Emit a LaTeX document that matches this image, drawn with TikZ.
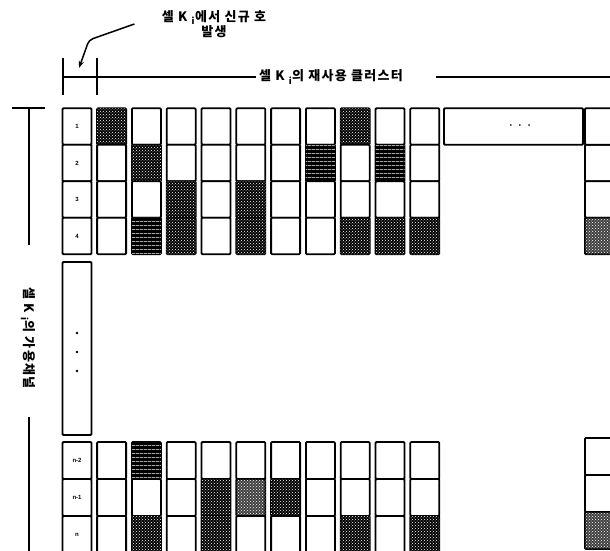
\documentclass[tikz,border=0pt]{standalone}
\usepackage{fontspec}
\setmainfont{Liberation Sans}
\newfontfamily\krfont{Noto Sans CJK KR}[LetterSpace=10]
\usepackage{tikz}
\usetikzlibrary{patterns,patterns.meta,arrows.meta}

\tikzdeclarepattern{
  name=chwaves,
  type=uncolored,
  bounding box={(0pt,0pt) and (4pt,4pt)},
  tile size={(4pt,4pt)},
  code={\draw[line width=0.6pt] (0pt,2pt) .. controls (1pt,3.6pt) and (3pt,0.4pt) .. (4pt,2pt);}
}

\tikzset{
  cell/.style={draw, line width=1.8pt, rounded corners=1pt, fill=white,
    minimum width=29pt, minimum height=36.5pt, inner sep=0pt,
    font=\fontsize{6}{7}\selectfont\bfseries},
  chfree/.style={},
  chused/.style={fill=black, postaction={pattern=crosshatch dots, pattern color=white}},
  chwave/.style={fill=black, postaction={pattern=chwaves, pattern color=white}},
  chlight/.style={fill=black!75, postaction={pattern=crosshatch dots, pattern color=white}},
  krlabel/.style={font=\krfont\bfseries\fontsize{13}{15}\selectfont, align=center},
  bracket/.style={line width=1.5pt},
}

\begin{document}
\begin{tikzpicture}[x=1pt,y=-1pt]
        \useasboundingbox (0,0) rectangle (610,551);
        \clip (0,0) rectangle (610,551);
        % labels
        \node[krlabel] (newcall) at (214,24) {셀 K \textsubscript{i}에서 신규 호\\발생};
        \node[krlabel] (cluster) at (331,77) {셀 K \textsubscript{i}의 재사용 클러스터};
        \node[krlabel, rotate=-90] (chlist) at (28,338) {셀 K \textsubscript{i}의 가용채널};

        \coordinate (arrbend) at (89,40);
        \coordinate (arrtip) at (79,68);
        \draw[bracket, rounded corners=4pt, -{Stealth[length=7pt,width=5pt]}] ([xshift=-24pt]newcall.west) -- (arrbend) -- (arrtip);

        \coordinate (clL) at (63,77);
        \coordinate (clR) at (616,77);
        \draw[bracket] (63,58) -- (63,95);
        \draw[bracket] (97,58) -- (97,95);
        \draw[bracket] (cluster.west) -- (clL);
        \draw[bracket] ([xshift=30pt]cluster.east) -- (clR);

        \coordinate (chtop) at (29,108);
        \coordinate (chA) at (29,245);
        \coordinate (chB) at (29,417);
        \coordinate (chbot) at (29,560);
        \draw[bracket] (12,108) -- (45,108);
        \draw[bracket] (chtop) -- (chA);
        \draw[bracket] (chB) -- (chbot);

        % channel numbers
        \node[cell] (lab1) at (77,126.5) {1};
        \node[cell] (lab2) at (77,163) {2};
        \node[cell] (lab3) at (77,199.5) {3};
        \node[cell] (lab4) at (77,236) {4};
        \node[cell, minimum height=173pt] (labdots) at (77,348.5) {};
        \foreach \y in {333,352,371}
            \fill (77,\y) circle (1.3pt);
        \node[cell, minimum height=37pt] (labn2) at (77,460.5) {n-2};
        \node[cell, minimum height=37pt] (labn1) at (77,497.5) {n-1};
        \node[cell, minimum height=37pt] (labn) at (77,534.5) {n};

        \node[cell, minimum width=139pt] (morecells) at (513.5,126.5)
            {\hspace{13pt}\textbullet\hspace{7pt}\textbullet\hspace{7pt}\textbullet};

        % cells of the cluster
        \foreach \k/\x/\ra/\rb/\rc/\rd/\re/\rf/\rg in {
            1/111.6/chused/chfree/chfree/chfree/chfree/chfree/chfree,
            2/146.4/chfree/chused/chfree/chwave/chwave/chfree/chused,
            3/181.2/chfree/chfree/chused/chused/chfree/chfree/chfree,
            4/216.0/chfree/chfree/chfree/chfree/chfree/chused/chused,
            5/250.8/chfree/chfree/chused/chused/chfree/chlight/chfree,
            6/285.6/chfree/chfree/chfree/chfree/chfree/chused/chfree,
            7/320.4/chfree/chwave/chfree/chfree/chfree/chfree/chfree,
            8/355.2/chused/chfree/chfree/chused/chfree/chfree/chused,
            9/390.0/chfree/chwave/chfree/chused/chfree/chfree/chfree,
            10/424.8/chfree/chfree/chfree/chused/chfree/chfree/chused}{
            \node[cell,\ra] (c\k-1) at (\x,126.5) {};
            \node[cell,\rb] (c\k-2) at (\x,163) {};
            \node[cell,\rc] (c\k-3) at (\x,199.5) {};
            \node[cell,\rd] (c\k-4) at (\x,236) {};
            \node[cell,\re,minimum height=37pt] (c\k-n2) at (\x,460.5) {};
            \node[cell,\rf,minimum height=37pt] (c\k-n1) at (\x,497.5) {};
            \node[cell,\rg,minimum height=37pt] (c\k-n) at (\x,534.5) {};
        }

        \node[cell] (cR-2) at (599.5,163) {};
        \node[cell] (cR-3) at (599.5,199.5) {};
        \node[cell,chlight] (cR-4) at (599.5,236) {};
        \node[cell,minimum height=37pt] (cR-n2) at (599.5,456.5) {};
        \node[cell,minimum height=37pt] (cR-n1) at (599.5,493.5) {};
        \node[cell,chlight,minimum height=37pt] (cR-n) at (599.5,530.5) {};
        \node[cell] (cR-1) at (599.5,126.5) {};

\end{tikzpicture}
\end{document}
